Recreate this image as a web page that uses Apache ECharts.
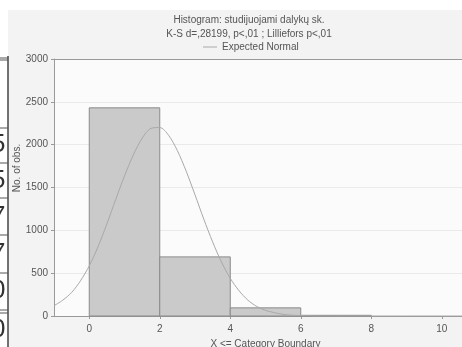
<!DOCTYPE html>
<html>
<head>
<meta charset="utf-8">
<script src="https://cdn.jsdelivr.net/npm/echarts@6/dist/echarts.min.js"></script>
<style>
  html, body { margin: 0; padding: 0; background: #fff; }
  #chart { width: 462px; height: 347px; }
</style>
</head>
<body>
<div id="chart"></div>
<script>
// histogram bins: [from, to, count]
var binFrom = [0, 2, 4, 6];
var binTo = [2, 4, 6, 8];
var binCount = [2430, 690, 95, 8];

// expected normal curve
var curveX = [-1, -0.75, -0.5, -0.25, 0, 0.25, 0.5, 0.75, 1, 1.25, 1.5, 1.75, 2, 2.25, 2.5, 2.75, 3, 3.25, 3.5, 3.75,
              4, 4.25, 4.5, 4.75, 5, 5.5, 6, 6.5, 7, 8, 9, 10, 11];
var curveY = [120, 185, 275, 410, 585, 810, 1075, 1360, 1635, 1880, 2075, 2190, 2200, 2110, 1930, 1690, 1415, 1130, 865, 630,
              440, 295, 185, 112, 66, 19, 5, 1, 0, 0, 0, 0, 0];

var xTicks = [0, 2, 4, 6, 8, 10];

// scanned table fragment on the left edge
var edgeDigits = ['5', '5', '7', '7', '0', '0'];
var edgeDigitY = [145, 181, 217, 254, 291, 330];
var edgeLineY = [58, 60, 128, 163, 198, 235, 273, 310, 313];

var myChart = echarts.init(document.getElementById('chart'));

var bins = binFrom.map(function (f, i) { return [f, binTo[i], binCount[i]]; });
var curve = curveX.map(function (x, i) { return [x, curveY[i]]; });

var graphics = [
    { type: 'rect', z: -10, shape: { x: 8, y: 10, width: 460, height: 340 }, style: { fill: '#f3f3f3' } },
    { type: 'line', shape: { x1: 8, y1: 56, x2: 8, y2: 347 }, style: { stroke: '#444', lineWidth: 1.5 } },
    // y axis title
    {
        type: 'text', x: 17, y: 168, rotation: Math.PI / 2,
        style: { text: 'No. of obs.', font: '10px "Liberation Sans"', fill: '#555', align: 'center', verticalAlign: 'middle' }
    }
];
edgeLineY.forEach(function (y) {
    graphics.push({ type: 'line', shape: { x1: 0, y1: y, x2: 8, y2: y }, style: { stroke: '#555', lineWidth: 1 } });
});
edgeDigits.forEach(function (d, i) {
    graphics.push({
        type: 'text', x: -9, y: edgeDigitY[i],
        style: { text: d, font: '26px "Liberation Sans"', fill: '#333', verticalAlign: 'middle' }
    });
});

myChart.setOption({
    animation: false,
    backgroundColor: 'transparent',
    textStyle: { fontFamily: '"Liberation Sans", Arial, sans-serif' },
    title: {
        text: 'Histogram: studijuojami dalykų sk.\nK-S d=,28199, p<,01 ; Lilliefors p<,01',
        left: 244, textAlign: 'center', top: 8,
        textStyle: { fontSize: 10, fontWeight: 'normal', color: '#555', lineHeight: 14 }
    },
    legend: {
        data: ['Expected Normal'],
        top: 37, left: 198,
        itemWidth: 14, itemHeight: 1, itemGap: 4,
        textStyle: { fontSize: 10, color: '#555' },
        icon: 'rect'
    },
    graphic: graphics,
    grid: {
        left: 54, top: 59, width: 423, height: 257,
        outerBoundsMode: 'none', containLabel: false,
        show: true, backgroundColor: '#fbfbfb', borderWidth: 0
    },
    xAxis: {
        type: 'value', min: -1, max: 11,
        name: 'X <= Category Boundary', nameLocation: 'middle', nameGap: 23,
        nameTextStyle: { fontSize: 10, color: '#555' },
        axisLine: { lineStyle: { color: '#999' } },
        axisTick: { show: true, length: 3, customValues: xTicks, lineStyle: { color: '#999' } },
        axisLabel: { customValues: xTicks, fontSize: 10, color: '#555', margin: 8 },
        splitLine: { show: false }
    },
    yAxis: {
        type: 'value', min: 0, max: 3000, interval: 500,
        axisLine: { show: true, onZero: false, lineStyle: { color: '#999' } },
        axisTick: { show: true, length: 3, lineStyle: { color: '#999' } },
        axisLabel: { fontSize: 10, color: '#555', margin: 6, formatter: function (v) { return String(v); } },
        splitLine: { lineStyle: { color: '#eaeaea' } }
    },
    series: [
        {
            name: 'bins',
            type: 'custom',
            data: bins,
            encode: { x: [0, 1], y: 2 },
            renderItem: function (params, api) {
                var p0 = api.coord([api.value(0), api.value(2)]);
                var p1 = api.coord([api.value(1), 0]);
                return {
                    type: 'rect',
                    shape: { x: p0[0], y: p0[1], width: p1[0] - p0[0], height: p1[1] - p0[1] },
                    style: { fill: '#cacaca', stroke: '#8a8a8a', lineWidth: 1 }
                };
            }
        },
        {
            name: 'Expected Normal',
            type: 'line',
            data: curve,
            smooth: 0.3,
            showSymbol: false,
            lineStyle: { color: '#a8a8a8', width: 1 },
            itemStyle: { color: '#a8a8a8' },
            z: 5
        },
        {
            name: 'top',
            type: 'line',
            data: [],
            markLine: {
                silent: true, symbol: 'none', label: { show: false },
                lineStyle: { color: '#999', type: 'solid', width: 1 },
                data: [{ yAxis: 3000 }]
            }
        }
    ]
});
</script>
</body>
</html>
